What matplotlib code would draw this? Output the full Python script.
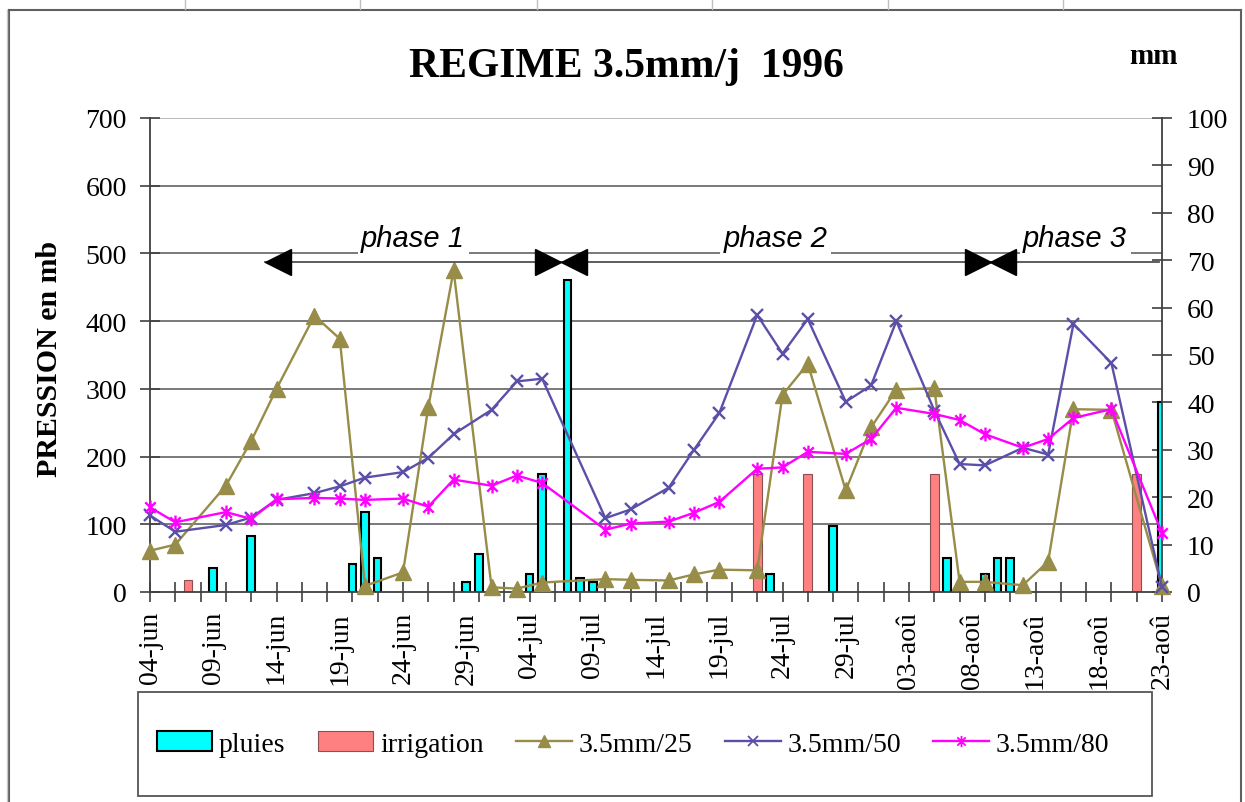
import matplotlib
matplotlib.use("Agg")
import matplotlib.pyplot as plt
from matplotlib.path import Path
from matplotlib.lines import Line2D
from matplotlib.patches import Patch, Rectangle
from matplotlib.ticker import MultipleLocator

plt.rcParams['font.family'] = ['Liberation Serif', 'DejaVu Serif']

# jours comptes depuis le 04-jun 1996
jours = [0, 2, 6, 8, 10, 13, 15, 17, 20, 22, 24, 27, 29, 31, 36, 38, 41, 43, 45,
         48, 50, 52, 55, 57, 59, 62, 64, 66, 69, 71, 73, 76, 80]
p25 = [61, 70, 157, 223, 300, 408, 374, 9, 29, 273, 475, 7, 5, 14, 19, 18, 17, 26, 33,
       32, 291, 337, 150, 243, 299, 301, 15, 15, 10, 45, 270, 269, 9]
p50 = [113, 89, 99, 110, 136, 146, 156, 169, 177, 198, 233, 269, 311, 315, 109, 122, 154, 210, 264,
       409, 352, 403, 281, 305, 400, 268, 189, 187, 213, 203, 396, 338, 7]
p80 = [125, 103, 118, 108, 137, 139, 138, 136, 138, 126, 166, 157, 172, 161, 92, 101, 104, 117, 133,
       182, 184, 207, 204, 226, 272, 263, 254, 233, 213, 226, 257, 270, 87]

pluie_j = [5, 8, 16, 17, 18, 25, 26, 30, 31, 33, 34, 35, 49, 54, 63, 66, 67, 68, 80]
pluie_mm = [5.1, 11.9, 5.9, 16.9, 7.2, 2.2, 8.0, 3.8, 24.9, 65.8, 3.0, 2.1, 3.8, 13.9, 7.2, 3.8, 7.2, 7.2, 40.0]
irrig_j = [3, 48, 52, 62, 78]
irrig_mm = [2.5, 25, 25, 25, 25]

tick_j = list(range(0, 81, 5))
tick_lbl = ['04-jun', '09-jun', '14-jun', '19-jun', '24-jun', '29-jun', '04-jul', '09-jul', '14-jul',
            '19-jul', '24-jul', '29-jul', '03-aoû', '08-aoû', '13-aoû', '18-aoû', '23-aoû']

phases = ['phase 1', 'phase 2', 'phase 3']
phase_lim = [9.1, 32.5, 66.45, 79.8]
phase_y = 487

olive = '#978C48'
bleu = '#5B50A8'
mag = '#FF00FF'
gris = '#404040'

# marqueur etoile style excel
star = Path([(0, -1), (0, 1), (-0.75, -0.75), (0.75, 0.75), (-0.75, 0.75), (0.75, -0.75)],
            [Path.MOVETO, Path.LINETO, Path.MOVETO, Path.LINETO, Path.MOVETO, Path.LINETO])

fig = plt.figure(figsize=(12.45, 8.03), dpi=100)
ax = fig.add_axes([150 / 1245, 1 - 593 / 803, 1012 / 1245, 474 / 803])

ax.bar(pluie_j, pluie_mm, width=0.6, color='#00FFFF', edgecolor='black', linewidth=1.5, zorder=2)
ax.bar(irrig_j, irrig_mm, width=0.68, color='#FF8080', edgecolor='#8a5050', linewidth=0.8, zorder=2)
ax.set_xlim(0, 80)
ax.set_ylim(0, 100)
ax.set_yticks(range(0, 101, 10))

ax.set_xticks(tick_j)
ax.set_xticklabels(tick_lbl, rotation=90, fontsize=20)
ax.tick_params(axis='x', which='major', length=0, pad=13.7)
ax.xaxis.set_minor_locator(MultipleLocator(2))
ax.xaxis.remove_overlapping_locs = False
ax.tick_params(axis='x', which='minor', direction='inout', length=14.4, width=1.2, color=gris)

for s in ['left', 'right', 'bottom']:
    ax.spines[s].set_color(gris)
    ax.spines[s].set_linewidth(1.3)
ax.spines['top'].set_visible(False)

ax2 = ax.twinx()
ax2.set_ylim(0, 700)
ax2.set_yticks(range(0, 701, 100))
ax2.yaxis.tick_left()
ax2.tick_params(axis='y', direction='inout', length=14.4, width=1.2, color=gris, pad=9.6, labelsize=20)
for s in ax2.spines.values():
    s.set_visible(False)

# echelle mm a droite (apres twinx qui la remet a gauche)
ax.yaxis.tick_right()
ax.tick_params(axis='y', direction='inout', length=14.4, width=1.2, color=gris, pad=10.8, labelsize=20)

# quadrillage (echelle pression) sous les barres
for v in ax2.get_yticks()[1:]:
    ax.axhline(v / 7.0, color='#b4b4b4' if v == 700 else '#6e6e6e', lw=1.3, zorder=0.5)

l25, = ax2.plot(jours, p25, color=olive, lw=1.7, marker='^', ms=11, clip_on=False, zorder=3)
l50, = ax2.plot(jours, p50, color=bleu, lw=1.7, marker='x', ms=9, mew=1.7, clip_on=False, zorder=3)
l80, = ax2.plot(jours, p80, color=mag, lw=1.7, marker=star, ms=10, mew=1.7, clip_on=False, zorder=3)

# phases
ax2.plot([phase_lim[0], phase_lim[-1]], [phase_y, phase_y], color='#505050', lw=1.3, zorder=4)
half = 1.0
for b in phase_lim[:3]:
    ax2.plot(b + half, phase_y, marker='<', ms=18.5, color='black', zorder=5)
for b in phase_lim[1:3]:
    ax2.plot(b - half, phase_y, marker='>', ms=18.5, color='black', zorder=5)
for i, name in enumerate(phases):
    xm = (phase_lim[i] + phase_lim[i + 1]) / 2
    ax2.text(xm, 523, name, family=['Liberation Sans', 'DejaVu Sans'], style='italic', fontsize=21,
             ha='center', va='center', zorder=4.5,
             bbox=dict(facecolor='white', edgecolor='none', pad=2.5))

fig.text(626 / 1245, 1 - 76.7 / 803, 'REGIME 3.5mm/j  1996', fontsize=30, fontweight='bold',
         ha='center', va='baseline')
fig.text(1154 / 1245, 1 - 64 / 803, 'mm', fontsize=21, fontweight='bold', ha='center', va='baseline')
fig.text(50 / 1245, 1 - 359 / 803, 'PRESSION en mb', fontsize=21.5, fontweight='bold', rotation=90,
         ha='center', va='center')

# legende
fig.patches.append(Rectangle((137.7 / 1245, 1 - 796.7 / 803), 1014 / 1245, 103.4 / 803,
                             transform=fig.transFigure, fill=False, edgecolor='#555555', lw=1.3))
handles = [Patch(facecolor='#00FFFF', edgecolor='black', linewidth=1.5),
           Patch(facecolor='#FF8080', edgecolor='#8a5050', linewidth=0.8),
           Line2D([], [], color=olive, lw=1.7, marker='^', ms=8),
           Line2D([], [], color=bleu, lw=1.7, marker='x', ms=7, mew=1.3),
           Line2D([], [], color=mag, lw=1.7, marker=star, ms=8, mew=1.3)]
labels = ['pluies', 'irrigation', '3.5mm/25', '3.5mm/50', '3.5mm/80']
fig.legend(handles, labels, loc='center', ncol=5, mode='expand', frameon=False,
           bbox_to_anchor=(151 / 1245, 1 - 797 / 803, 964 / 1245, 104 / 803),
           fontsize=20, handlelength=2.0, handleheight=0.7, handletextpad=0.25,
           borderpad=0.2, borderaxespad=0, numpoints=1)

# cadre du graphique et lignes de la feuille
fig.add_artist(Line2D([9 / 1245, 9 / 1245], [0, 1 - 10.7 / 803], color='#606060', lw=1.5,
                      transform=fig.transFigure))
fig.add_artist(Line2D([7 / 1245, 7 / 1245], [0, 1 - 10.7 / 803], color='#c8c8c8', lw=1,
                      transform=fig.transFigure))
fig.add_artist(Line2D([1240.7 / 1245, 1240.7 / 1245], [0, 1 - 10.7 / 803], color='#606060', lw=1.5,
                      transform=fig.transFigure))
fig.add_artist(Line2D([9 / 1245, 1240.7 / 1245], [1 - 10.7 / 803, 1 - 10.7 / 803], color='#606060',
                      lw=1.5, transform=fig.transFigure))
for xc in [185, 360, 537, 712, 888, 1063]:
    fig.add_artist(Line2D([xc / 1245, xc / 1245], [1 - 10 / 803, 1], color='#c0c0c0', lw=1,
                          transform=fig.transFigure))

fig.savefig('out.png', dpi=100)
